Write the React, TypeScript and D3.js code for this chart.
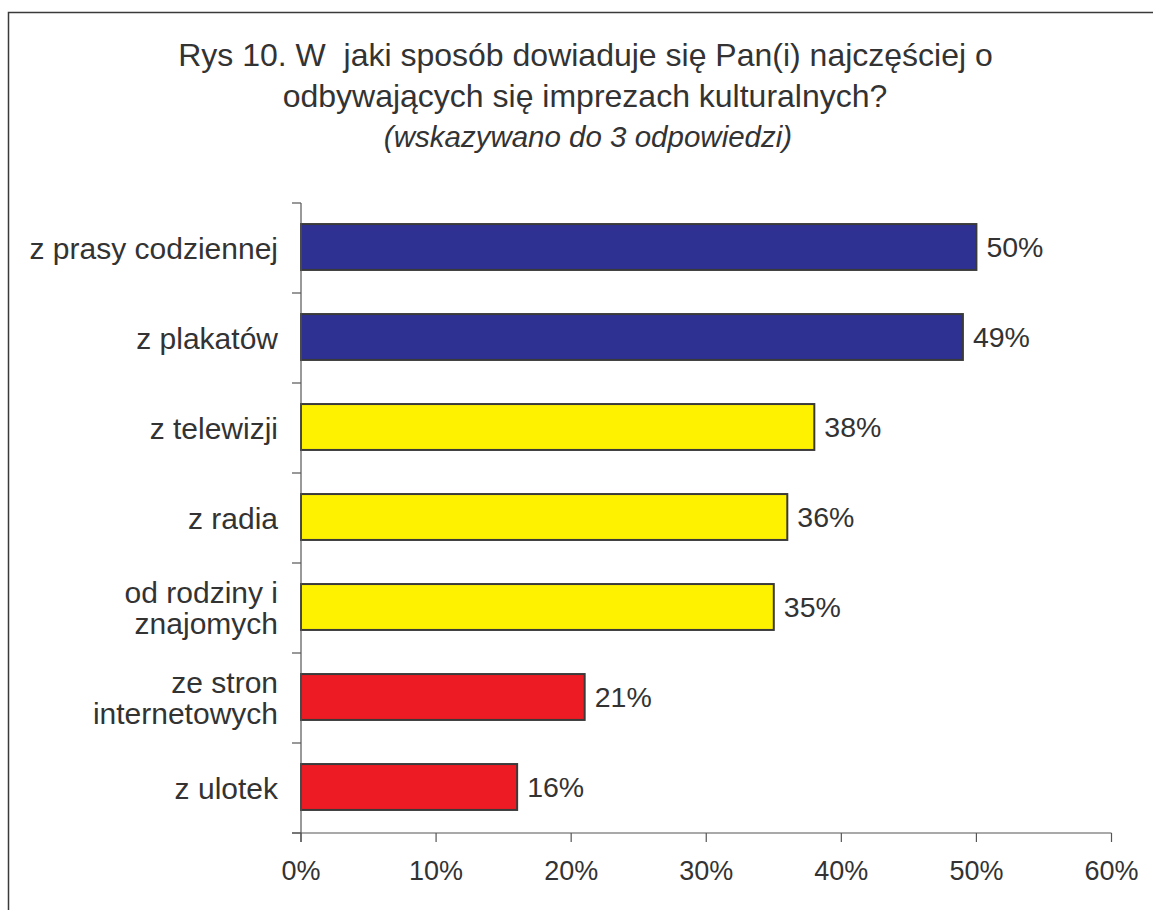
import React from "react";
import * as d3 from "d3";

const categories: string[][] = [
  ["z prasy codziennej"],
  ["z plakatów"],
  ["z telewizji"],
  ["z radia"],
  ["od rodziny i", "znajomych"],
  ["ze stron", "internetowych"],
  ["z ulotek"],
];
const values: number[] = [50, 49, 38, 36, 35, 21, 16];
const barColors: string[] = ["#2E3192", "#2E3192", "#FFF200", "#FFF200", "#FFF200", "#ED1C24", "#ED1C24"];
const xTicks: number[] = [0, 10, 20, 30, 40, 50, 60];
const titleLines: string[] = [
  "Rys 10. W\u00A0 jaki sposób dowiaduje się Pan(i) najczęściej o",
  "odbywających się imprezach kulturalnych?",
];
const subtitle = "(wskazywano do 3 odpowiedzi)";

const W = 1153;
const H = 910;
const FONT = "'Liberation Sans', Arial, Helvetica, sans-serif";
const TEXT = "#333333";

export default function App() {
  const x = d3.scaleLinear().domain([0, 60]).range([301, 1111.5]);
  const y = d3
    .scaleBand<number>()
    .domain(d3.range(categories.length))
    .range([203, 833])
    .paddingInner(0)
    .paddingOuter(0);
  const bw = y.bandwidth();
  const barH = bw * 0.51;
  const x0 = x(0);
  const yBottom = 833;
  const tickLen = 9;
  const bounds = [203, ...d3.range(categories.length).map((i) => (y(i) as number) + bw)];

  return (
    <div style={{ position: "absolute", left: 0, top: 0, width: W, height: H, overflow: "hidden" }}>
      <svg width={W} height={H} style={{ display: "block", background: "#fff" }}>
        <rect x={8.5} y={12.5} width={W + 20} height={H + 20} fill="#fff" stroke="#3a3a3a" strokeWidth={1.5} />
        <g fontFamily={FONT} fill={TEXT} textAnchor="middle">
          <text x={585.5} y={66} fontSize={32}>{titleLines[0]}</text>
          <text x={585} y={107} fontSize={32}>{titleLines[1]}</text>
          <text x={588} y={147} fontSize={29.5} fontStyle="italic">{subtitle}</text>
        </g>
        {/* bars */}
        {values.map((v, i) => {
          const yc = (y(i) as number) + bw / 2 - 1;
          return (
            <g key={i}>
              <rect
                x={x0}
                y={yc - barH / 2}
                width={x(v) - x0}
                height={barH}
                fill={barColors[i]}
                stroke="#3a3a3a"
                strokeWidth={2}
              />
              <text
                x={x(v) + 10}
                y={yc}
                dy="0.36em"
                fontFamily={FONT}
                fontSize={28.5}
                fill={TEXT}
              >
                {v}%
              </text>
            </g>
          );
        })}
        {/* y axis */}
        <line x1={x0} x2={x0} y1={203} y2={yBottom + tickLen} stroke="#555" strokeWidth={1.2} />
        {bounds.map((b, i) => (
          <line key={i} x1={x0 - tickLen} x2={x0} y1={b} y2={b} stroke="#555" strokeWidth={1.2} />
        ))}
        {/* x axis */}
        <line x1={x0 - tickLen} x2={x(60)} y1={yBottom} y2={yBottom} stroke="#555" strokeWidth={1.2} />
        {xTicks.map((t) => (
          <g key={t}>
            <line x1={x(t)} x2={x(t)} y1={yBottom} y2={yBottom + tickLen} stroke="#555" strokeWidth={1.2} />
            <text x={x(t)} y={880} textAnchor="middle" fontFamily={FONT} fontSize={27} fill={TEXT}>
              {t}%
            </text>
          </g>
        ))}
        {/* category labels */}
        {categories.map((lines, i) => {
          const yc = (y(i) as number) + bw / 2;
          const lh = 31;
          const start = yc - ((lines.length - 1) * lh) / 2;
          return (
            <text key={i} x={278} textAnchor="end" fontFamily={FONT} fontSize={30} fill={TEXT}>
              {lines.map((l, j) => (
                <tspan key={j} x={278} y={start + j * lh} dy="0.36em">
                  {l}
                </tspan>
              ))}
            </text>
          );
        })}
      </svg>
    </div>
  );
}
